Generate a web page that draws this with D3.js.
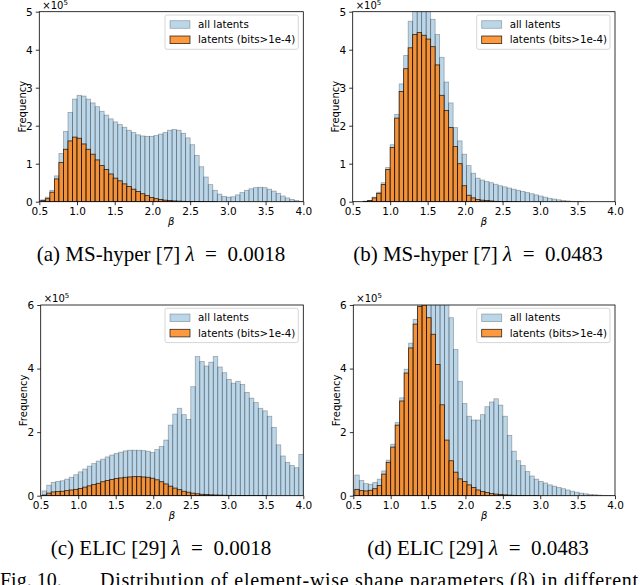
<!DOCTYPE html>
<html>
<head>
<meta charset="utf-8">
<script src="https://cdn.jsdelivr.net/npm/d3@7"></script>
<style>
  body { margin: 0; background: #fff; }
  svg { display: block; }
</style>
</head>
<body>
<svg id="fig" width="640" height="585"></svg>
<script>
// histogram bins: 58 bins of width 0.06 ending at 4.0
const binStart = 0.52;
const binWidth = 0.06;

const xTicks = [0.5, 1.0, 1.5, 2.0, 2.5, 3.0, 3.5, 4.0];
const yTicksTop = [0, 1, 2, 3, 4, 5];
const yTicksBottom = [0, 2, 4, 6];
const legendLabels = ['all latents', 'latents (bits>1e-4)'];

// frequencies in units of 1e5
const allA = [0.05, 0.12, 0.3, 0.68, 1.27, 1.85, 2.35, 2.7, 2.8, 2.78,
    2.7, 2.6, 2.5, 2.38, 2.28, 2.18, 2.1, 2.03, 1.96, 1.88,
    1.82, 1.76, 1.73, 1.72, 1.72, 1.74, 1.78, 1.82, 1.88, 1.9,
    1.88, 1.8, 1.68, 1.5, 1.22, 0.92, 0.65, 0.45, 0.3, 0.2,
    0.14, 0.12, 0.13, 0.18, 0.24, 0.3, 0.34, 0.37, 0.38, 0.37,
    0.33, 0.28, 0.22, 0.15, 0.1, 0.06, 0.03, 0.01];
const bitsA = [0.03, 0.08, 0.25, 0.6, 1.03, 1.38, 1.6, 1.7, 1.67, 1.52,
    1.38, 1.25, 1.1, 0.95, 0.85, 0.73, 0.62, 0.55, 0.47, 0.4,
    0.33, 0.27, 0.21, 0.16, 0.11, 0.08, 0.06, 0.04, 0.03, 0.02,
    0.015, 0.01, 0.008, 0.005, 0.004, 0.003, 0.002, 0.002, 0.001, 0,
    0, 0, 0, 0, 0, 0, 0, 0, 0, 0,
    0, 0, 0, 0, 0, 0, 0, 0];

const allB = [0, 0, 0.01, 0.03, 0.12, 0.25, 0.5, 0.9, 1.5, 2.3,
    3.1, 3.85, 4.75, 5.1, 5.3, 5.3, 5.1, 4.8, 4.4, 3.8,
    3.15, 2.6, 1.95, 1.6, 1.25, 0.95, 0.75, 0.62, 0.57, 0.53,
    0.5, 0.46, 0.42, 0.39, 0.36, 0.33, 0.3, 0.27, 0.24, 0.21,
    0.18, 0.15, 0.12, 0.09, 0.07, 0.05, 0.03, 0.02, 0.01, 0.005,
    0.003, 0, 0, 0, 0, 0, 0, 0];
const bitsB = [0, 0, 0.01, 0.03, 0.1, 0.22, 0.45, 0.85, 1.43, 2.2,
    2.9, 3.5, 4.05, 4.4, 4.45, 4.38, 4.28, 4.08, 3.6, 2.8,
    2.4, 1.95, 1.45, 1.0, 0.42, 0.17, 0.1, 0.06, 0.04, 0.03,
    0.02, 0.01, 0.006, 0.004, 0.003, 0.002, 0.001, 0, 0, 0,
    0, 0, 0, 0, 0, 0, 0, 0, 0, 0,
    0, 0, 0, 0, 0, 0, 0, 0];

const allC = [0.15, 0.33, 0.42, 0.45, 0.47, 0.52, 0.58, 0.66, 0.75, 0.84,
    0.93, 1.01, 1.09, 1.15, 1.22, 1.28, 1.33, 1.37, 1.41, 1.43,
    1.43, 1.43, 1.42, 1.4, 1.36, 1.45, 1.55, 1.75, 2.22, 2.57,
    2.75, 2.55, 2.4, 3.43, 4.38, 4.22, 4.08, 4.2, 4.38, 4.05,
    3.87, 3.66, 3.54, 3.6, 3.5, 3.25, 3.07, 2.93, 2.75, 2.67,
    2.5, 2.15, 1.6, 1.25, 1.05, 0.95, 0.88, 1.3];
const bitsC = [0.02, 0.08, 0.12, 0.13, 0.14, 0.16, 0.18, 0.2, 0.23, 0.27,
    0.31, 0.35, 0.39, 0.44, 0.48, 0.51, 0.54, 0.56, 0.58, 0.59,
    0.6, 0.6, 0.59, 0.58, 0.55, 0.5, 0.44, 0.37, 0.3, 0.24,
    0.19, 0.14, 0.11, 0.08, 0.06, 0.045, 0.035, 0.028, 0.022, 0.018,
    0.014, 0.011, 0.009, 0.007, 0.005, 0.004, 0.003, 0.002, 0.002, 0.001,
    0, 0, 0, 0, 0, 0, 0, 0];

const allD = [0.65, 0.48, 0.38, 0.36, 0.42, 0.52, 0.78, 1.12, 1.62, 2.3,
    3.08, 3.98, 4.8, 5.55, 6.1, 6.6, 6.8, 6.8, 6.6, 6.4,
    6.15, 5.6, 4.6, 3.6, 2.9, 2.5, 2.38, 2.38, 2.55, 2.8,
    2.95, 3.05, 2.85, 2.5, 1.9, 1.4, 1.1, 0.95, 0.76, 0.62,
    0.52, 0.45, 0.4, 0.34, 0.3, 0.26, 0.22, 0.18, 0.14, 0.11,
    0.08, 0.06, 0.04, 0.03, 0.02, 0.01, 0.005, 0.003];
const bitsD = [0.2, 0.16, 0.15, 0.17, 0.22, 0.32, 0.68, 1.05, 1.53, 2.22,
    2.98, 3.86, 4.65, 5.4, 5.95, 6.0, 5.6, 5.08, 4.13, 2.86,
    1.75, 1.1, 0.74, 0.53, 0.45, 0.34, 0.26, 0.18, 0.13, 0.1,
    0.07, 0.05, 0.035, 0.025, 0.018, 0.012, 0.008, 0.005, 0.003, 0.002,
    0.001, 0, 0, 0, 0, 0, 0, 0, 0, 0,
    0, 0, 0, 0, 0, 0, 0, 0];

const captionNames = ['(a) MS-hyper [7] ', '(b) MS-hyper [7] ', '(c) ELIC [29] ', '(d) ELIC [29] '];
const captionLambdas = ['0.0018', '0.0483', '0.0018', '0.0483'];

const panels = [
    {all: allA, bits: bitsA, yTicks: yTicksTop, left: 39.3, right: 303.3, top: 11.7, bottom: 201.7, cx: 161, capY: 261},
    {all: allB, bits: bitsB, yTicks: yTicksTop, left: 352.7, right: 615, top: 11.7, bottom: 201.7, cx: 478, capY: 261},
    {all: allC, bits: bitsC, yTicks: yTicksBottom, left: 40.7, right: 303.3, top: 305, bottom: 495.7, cx: 161, capY: 555},
    {all: allD, bits: bitsD, yTicks: yTicksBottom, left: 353.3, right: 615, top: 305, bottom: 495.7, cx: 478, capY: 555}
];

const blueStyle = {fill: 'rgba(31,119,180,0.3)', stroke: 'rgba(0,0,0,0.3)'};
const orangeStyle = {fill: 'rgba(255,127,14,0.8)', stroke: 'rgba(0,0,0,0.8)'};

let svg = d3.select('#fig');
let defs = svg.append('defs');

panels.forEach(function(p, k) {
    let x = d3.scaleLinear().domain([0.5, 4.0]).range([p.left, p.right]);
    let yMax = d3.max(p.yTicks);
    let y = d3.scaleLinear().domain([0, yMax]).range([p.bottom, p.top]);

    defs.append('clipPath').attr('id', 'clip' + k)
        .append('rect')
        .attr('x', p.left).attr('y', p.top)
        .attr('width', p.right - p.left).attr('height', p.bottom - p.top);

    let bars = svg.append('g').attr('clip-path', 'url(#clip' + k + ')');

    [[p.all, blueStyle], [p.bits, orangeStyle]].forEach(function(s) {
        let values = s[0], style = s[1];
        let data = values.map(function(v, i) {
            return {x0: binStart + i * binWidth, x1: binStart + (i + 1) * binWidth, v: v};
        }).filter(function(d) { return d.v > 0; });
        bars.append('g').selectAll('rect').data(data).join('rect')
            .attr('x', function(d) { return x(d.x0); })
            .attr('width', function(d) { return x(d.x1) - x(d.x0); })
            .attr('y', function(d) { return y(d.v); })
            .attr('height', function(d) { return y(0) - y(d.v); })
            .attr('fill', style.fill)
            .attr('stroke', style.stroke)
            .attr('stroke-width', 0.8);
    });

    // axes
    let xAxis = svg.append('g')
        .attr('transform', 'translate(0,' + p.bottom + ')')
        .call(d3.axisBottom(x).tickValues(xTicks).tickFormat(d3.format('.1f')).tickSize(3.5).tickPadding(2.5).tickSizeOuter(0));
    let yAxis = svg.append('g')
        .attr('transform', 'translate(' + p.left + ',0)')
        .call(d3.axisLeft(y).tickValues(p.yTicks).tickFormat(d3.format('d')).tickSize(3.5).tickPadding(3).tickSizeOuter(0));
    [xAxis, yAxis].forEach(function(a) {
        a.select('.domain').remove();
        a.attr('font-family', 'DejaVu Sans').attr('font-size', 10.5).attr('color', '#000');
        a.selectAll('line').attr('stroke-width', 0.8);
    });

    svg.append('rect')
        .attr('x', p.left).attr('y', p.top)
        .attr('width', p.right - p.left).attr('height', p.bottom - p.top)
        .attr('fill', 'none').attr('stroke', '#000').attr('stroke-width', 0.8);

    // offset text
    let off = svg.append('text')
        .attr('x', p.left + 3).attr('y', p.top - 3.2)
        .attr('font-family', 'DejaVu Sans').attr('font-size', 10);
    off.append('tspan').text('\u00d710');
    off.append('tspan').attr('font-size', 7).attr('dy', -4).text('5');

    svg.append('text')
        .attr('transform', 'translate(' + (p.left - 17) + ',' + ((p.top + p.bottom) / 2) + ') rotate(-90)')
        .attr('text-anchor', 'middle').attr('dy', '0.35em')
        .attr('font-family', 'DejaVu Sans').attr('font-size', 10)
        .text('Frequency');

    svg.append('text')
        .attr('x', (p.left + p.right) / 2).attr('y', p.bottom + 23.5)
        .attr('text-anchor', 'middle')
        .attr('font-family', 'DejaVu Sans').attr('font-style', 'italic').attr('font-size', 10)
        .text('\u03b2');

    // legend
    let lx = p.right - 138.3, ly = p.top + 3.3;
    let leg = svg.append('g');
    leg.append('rect')
        .attr('x', lx).attr('y', ly).attr('width', 133.3).attr('height', 34.3)
        .attr('rx', 2).attr('fill', 'rgba(255,255,255,0.8)').attr('stroke', '#cccccc').attr('stroke-width', 0.8);
    [blueStyle, orangeStyle].forEach(function(style, j) {
        leg.append('rect')
            .attr('x', lx + 5).attr('y', ly + 5.7 + j * 15.3)
            .attr('width', 20).attr('height', 7.6)
            .attr('fill', style.fill).attr('stroke', style.stroke).attr('stroke-width', 0.8);
        leg.append('text')
            .attr('x', lx + 33).attr('y', ly + 13 + j * 15.3)
            .attr('font-family', 'DejaVu Sans').attr('font-size', 10.3)
            .text(legendLabels[j]);
    });

    // caption
    let cap = svg.append('text')
        .attr('x', p.cx).attr('y', p.capY)
        .attr('text-anchor', 'middle')
        .attr('font-family', 'Liberation Serif').attr('font-size', 21);
    cap.append('tspan').text(captionNames[k]);
    cap.append('tspan').attr('font-style', 'italic').text('\u03bb');
    cap.append('tspan').text('\u2002=\u2002' + captionLambdas[k]);
});

// figure caption, cut by the bottom edge as in the source
svg.append('text')
    .attr('x', 0).attr('y', 587)
    .attr('font-family', 'Liberation Serif').attr('font-size', 20)
    .text('Fig. 10.');
svg.append('text')
    .attr('x', 100).attr('y', 587)
    .attr('textLength', 538).attr('lengthAdjust', 'spacing')
    .attr('font-family', 'Liberation Serif').attr('font-size', 20)
    .text('Distribution of element-wise shape parameters (\u03b2) in different');
</script>
</body>
</html>
